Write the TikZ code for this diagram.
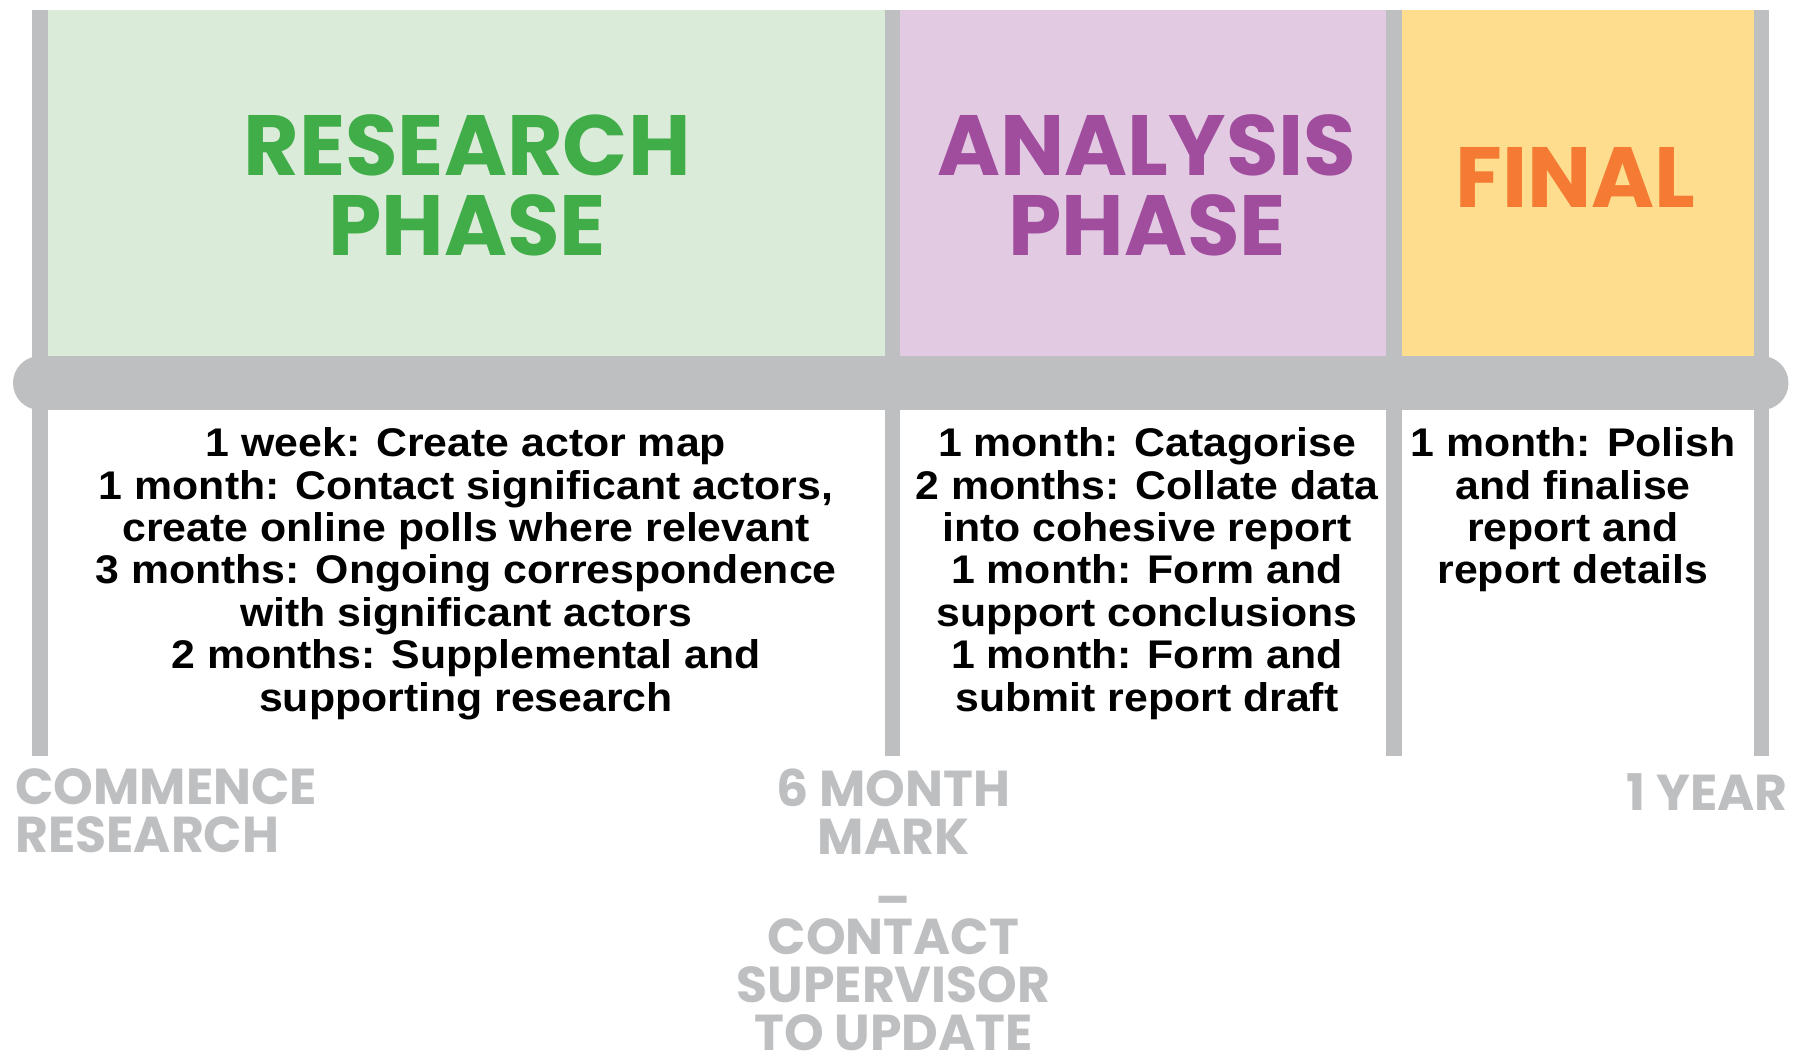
\documentclass[tikz,border=0pt]{standalone}
\usepackage{fontspec}
\setmainfont{Liberation Sans}
\newfontfamily\headfont{Poppins}
\newfontfamily\bodyfont{Liberation Sans}[FakeStretch=1.07]

\definecolor{railgray}{HTML}{BEBFC1}
\definecolor{researchfill}{HTML}{DBEBD9}
\definecolor{researchink}{HTML}{41AD49}
\definecolor{analysisfill}{HTML}{E2CAE2}
\definecolor{analysisink}{HTML}{A04D9E}
\definecolor{finalfill}{HTML}{FEDE8E}
\definecolor{finalink}{HTML}{F57A34}

\tikzset{
  rail/.style={line width=15.5pt, draw=railgray},
  timebar/.style={line width=54pt, draw=railgray, line cap=round},
  heading/.style={font=\headfont\bfseries\fontsize{85.5}{80}\selectfont,
    align=center, inner sep=0, anchor=base},
  tasks/.style={font=\bodyfont\bfseries\fontsize{40}{42.4}\selectfont,
    align=center, inner sep=0, anchor=base, text=black},
  milestone/.style={font=\headfont\bfseries\fontsize{50.5}{48}\selectfont,
    inner sep=0, text=railgray}
}

\begin{document}
\begin{tikzpicture}[x=1pt, y=-1pt]
  \useasboundingbox (0,0) rectangle (1812,1050);

  % phase panels above the time bar
  \fill[researchfill] (48,10) rectangle (885,356);
  \fill[analysisfill] (900,10) rectangle (1386,356);
  \fill[finalfill] (1402,10) rectangle (1754,356);

  % milestone rails
  \coordinate (s0t) at (40,10);    \coordinate (s0b) at (40,756);
  \coordinate (s1t) at (892.5,10); \coordinate (s1b) at (892.5,756);
  \coordinate (s2t) at (1394,10);  \coordinate (s2b) at (1394,756);
  \coordinate (s3t) at (1761.5,10);\coordinate (s3b) at (1761.5,756);
  \draw[rail] (s0t) -- (s0b);
  \draw[rail] (s1t) -- (s1b);
  \draw[rail] (s2t) -- (s2b);
  \draw[rail] (s3t) -- (s3b);

  % horizontal time bar
  \coordinate (barL) at (40,383);
  \coordinate (barR) at (1761.5,383);
  \draw[timebar] (barL) -- (barR);

  % phase titles (base = baseline of the last line)
  \node[heading, text=researchink] (hres) at (467,255) {RESEARCH\\PHASE};
  \node[heading, text=analysisink] (hana) at (1147,255) {ANALYSIS\\PHASE};
  \node[heading, text=finalink] (hfin) at (1575.5,207) {FINAL};

  % task lists
  \node[tasks] (tres) at (466,711.1) {1 week: Create actor map\\
    1 month: Contact significant actors,\\
    create online polls where relevant\\
    3 months: Ongoing correspondence\\
    with significant actors\\
    2 months: Supplemental and\\
    supporting research};
  \node[tasks] (tana) at (1147,711.1) {1 month: Catagorise\\
    2 months: Collate data\\
    into cohesive report\\
    1 month: Form and\\
    support conclusions\\
    1 month: Form and\\
    submit report draft};
  \node[tasks] (tfin) at (1573,583.9) {1 month: Polish\\
    and finalise\\
    report and\\
    report details};

  % milestone captions
  \node[milestone, anchor=base west, align=left] (mstart) at (15,852)
    {COMMENCE\\RESEARCH};
  \node[milestone, anchor=base, align=center] (mhalf) at (893.5,1050)
    {6 MONTH\\MARK\\\raisebox{-15pt}{–}\\CONTACT\\SUPERVISOR\\TO UPDATE};
  \node[milestone, anchor=base east, align=right] (mend) at (1788,810)
    {1 YEAR};
\end{tikzpicture}
\end{document}
